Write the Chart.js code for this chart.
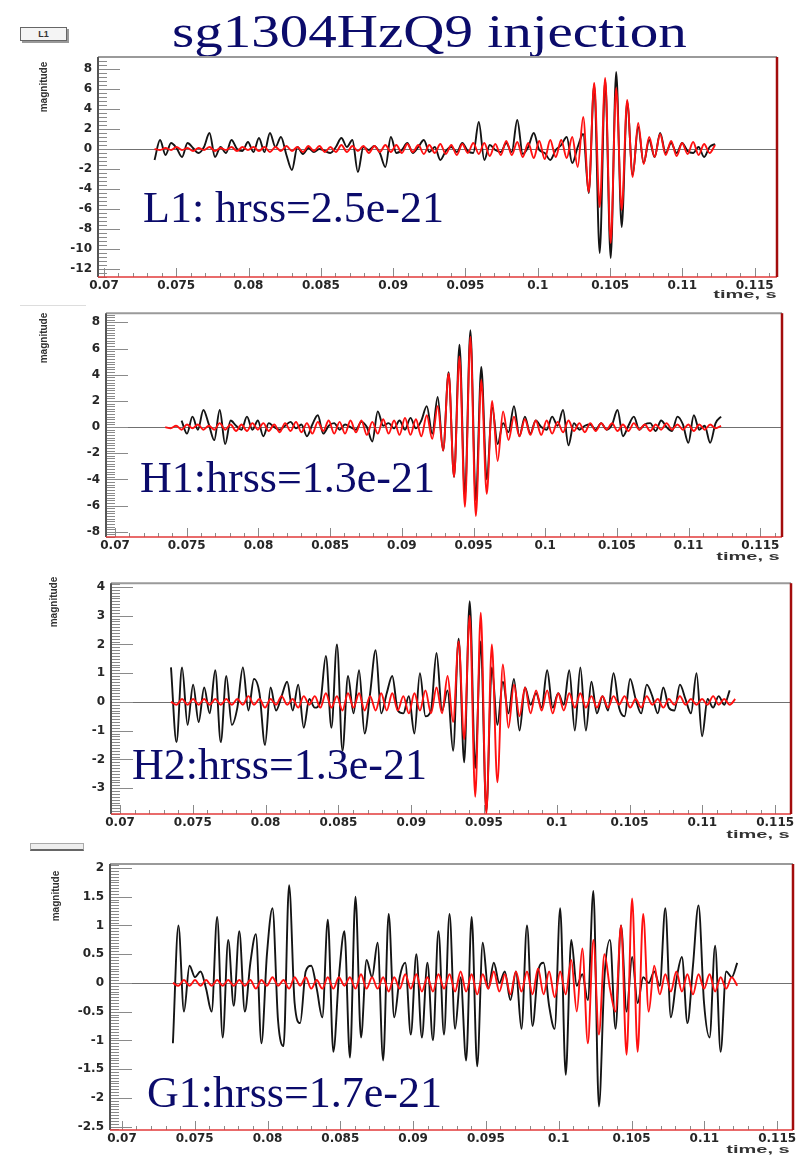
<!DOCTYPE html>
<html>
<head>
<meta charset="utf-8">
<title>sg1304HzQ9 injection</title>
<script src="https://cdn.jsdelivr.net/npm/chart.js@4.4.1/dist/chart.umd.min.js"></script>
<style>
  body { margin: 0; background: #fff; }
  #page { position: relative; width: 802px; height: 1156px; overflow: hidden; background: #fff; }
  canvas { position: absolute; left: 0; }
  .big { position: absolute; font-family: "Liberation Serif", "Times New Roman", serif; color: #0b0b6b; white-space: nowrap; }
  .ytitle { position: absolute; width: 70px; height: 12px; line-height: 12px; text-align: center;
            font: bold 10px "Liberation Sans", Arial, sans-serif; color: #333; transform: rotate(-90deg); }
  .xtitle { position: absolute; height: 12px; line-height: 12px; text-align: right;
            font: bold 10px "Liberation Sans", Arial, sans-serif; color: #333; transform: scaleX(2); transform-origin: right center; }
</style>
</head>
<body>
<div id="page">
  <div class="big" style="left:172px; top:9px; font-size:46px; line-height:46px; transform:scaleX(1.24); transform-origin:left center;">sg1304HzQ9 injection</div>

  <div style="position:absolute; left:20px; top:27px; width:45px; height:12px; border:1px solid #666; box-shadow:2px 2px 0 #999; background:#f4f4f4; font:bold 9px 'Liberation Sans', Arial; line-height:12px; text-align:center; color:#333;">L1</div>
  <div style="position:absolute; left:20px; top:305px; width:66px; height:1px; background:#ddd;"></div>
  <div style="position:absolute; left:30px; top:843px; width:52px; height:5px; border:1px solid #aaa; border-bottom:2px solid #666; background:#eee;"></div>

  <canvas id="c1" width="802" height="300" style="top:0px"></canvas>
  <canvas id="c2" width="802" height="270" style="top:300px"></canvas>
  <canvas id="c3" width="802" height="270" style="top:570px"></canvas>
  <canvas id="c4" width="802" height="316" style="top:840px"></canvas>

  <div class="ytitle" style="left:9px; top:81px;">magnitude</div>
  <div class="ytitle" style="left:9px; top:332px;">magnitude</div>
  <div class="ytitle" style="left:19px; top:596px;">magnitude</div>
  <div class="ytitle" style="left:21px; top:890px;">magnitude</div>

  <div class="xtitle" style="right:25px; top:289px;">time, s</div>
  <div class="xtitle" style="right:22px; top:551px;">time, s</div>
  <div class="xtitle" style="right:12px; top:829px;">time, s</div>
  <div class="xtitle" style="right:12px; top:1144px;">time, s</div>

  <div class="big" style="left:143px; top:186px; font-size:44px; line-height:44px;">L1: hrss=2.5e-21</div>
  <div class="big" style="left:140px; top:456px; font-size:44px; line-height:44px;">H1:hrss=1.3e-21</div>
  <div class="big" style="left:132px; top:743px; font-size:44px; line-height:44px;">H2:hrss=1.3e-21</div>
  <div class="big" style="left:147px; top:1071px; font-size:44px; line-height:44px;">G1:hrss=1.7e-21</div>
</div>

<script>
// samples are taken every T_STEP seconds starting at T_START
const T_START = 0.0735;
const T_STEP = 0.00038;

// tick labels
const xTicks = [0.07, 0.075, 0.08, 0.085, 0.09, 0.095, 0.1, 0.105, 0.11, 0.115];
const l1YTicks = [8, 6, 4, 2, 0, -2, -4, -6, -8, -10, -12];
const h1YTicks = [8, 6, 4, 2, 0, -2, -4, -6, -8];
const h2YTicks = [4, 3, 2, 1, 0, -1, -2, -3];
const g1YTicks = [2, 1.5, 1, 0.5, 0, -0.5, -1, -1.5, -2, -2.5];

// L1 - black: data, red: injected waveform
const l1Black = [
  -1.1, 0.9, -0.6, 0.6, 0.1, -0.8, 0.6, 0.1, -0.4, 0.2,
  1.6, -0.8, 0.2, -0.4, 0.9, 0.0, -0.2, 0.7, -0.3, 1.1,
  -0.3, 1.6, 0.2, 1.2, -0.6, -2.1, 0.2, -0.5, 0.1, -0.3,
  0.0, -0.2, -0.4, 0.2, 1.1, 0.2, 0.9, -2.3, 0.2, -0.1,
  0.3, -0.4, -1.8, 1.2, -0.4, -0.1, 0.6, -0.4, 0.2, 0.9,
  -0.3, 0.2, -1.1, -0.2, 0.2, -0.3, 0.6, -0.2, -0.4, 2.7,
  -1.1, 0.4, -0.1, -0.3, 0.6, -0.3, 2.9, -0.5, 0.2, 1.6,
  -0.1, -0.4, -1.1, -0.1, 0.4, 1.2, -1.4, 0.2, 1.5, -4.4,
  6.4, -10.4, 6.9, -10.9, 7.7, -7.8, 4.7, -2.6, 2.2, -1.4,
  0.9, -0.8, 1.6, -0.4, 0.6, -0.4, 0.6, -0.2, -0.4, 0.2,
  -0.8, 0.2, 0.5
];
const l1Red = [
  0.0, -0.1, 0.1, -0.1, 0.2, -0.1, 0.1, -0.2, 0.1, -0.1,
  0.2, -0.2, 0.1, -0.1, 0.2, -0.2, 0.2, -0.1, 0.2, -0.2,
  0.2, -0.3, 0.2, -0.2, 0.3, -0.2, 0.2, -0.3, 0.3, -0.2,
  0.3, -0.3, 0.2, -0.3, 0.4, -0.3, 0.3, -0.2, 0.3, -0.4,
  0.3, -0.3, 0.4, -0.3, 0.4, -0.4, 0.5, -0.3, 0.4, -0.5,
  0.4, -0.4, 0.5, -0.5, 0.4, -0.6, 0.5, -0.4, 0.6, -0.5,
  0.6, -0.7, 0.5, -0.6, 0.8, -0.6, 0.7, -0.8, 0.6, -0.9,
  0.8, -1.0, 0.9, -0.8, 0.9, -0.9, 1.2, -1.8, 3.2, -4.3,
  6.6, -5.8, 7.1, -9.4, 6.1, -6.1, 4.9, -2.8, 2.6, -1.5,
  1.2, -0.8, 1.5, -0.6, 0.8, -0.7, 0.6, -0.5, 0.7, -0.6,
  0.5, -0.4, 0.4
];

// H1
const h1Black = [
  null, null, null, 0.5, -0.5, 0.8, -0.2, 1.3, 0.2, -1.0,
  1.3, -1.3, 0.5, 0.1, -0.2, 0.8, -0.2, 0.5, -0.7, 0.3,
  0.0, -0.2, 0.1, 0.4, -0.1, 0.2, -0.7, 0.2, 0.9, -0.5,
  0.1, 0.3, -0.2, 0.2, 0.0, -0.2, 0.4, 0.0, -1.1, 1.2,
  0.1, 0.3, -0.1, 0.5, -0.2, 0.7, -0.1, 0.5, 1.6, -0.5,
  2.3, -1.8, 4.2, -3.8, 6.3, -5.3, 7.4, -5.6, 4.6, -4.0,
  1.5, -1.3, 0.3, -0.4, 1.6, -0.7, 0.8, -0.5, 0.5, 0.0,
  -0.2, 0.8, 0.1, 1.3, -1.4, 0.3, -0.2, 0.1, 0.2, -0.2,
  0.3, -0.2, 0.2, 1.3, -0.7, 0.1, 0.8, -0.2, 0.2, 0.3,
  -0.3, 0.5, 0.0, -0.3, 0.8, 0.2, -1.2, 0.9, -0.2, 0.1,
  -1.2, 0.3, 0.8
];
const h1Red = [
  0.0, -0.1, 0.1, -0.2, 0.2, -0.1, 0.2, -0.2, 0.1, -0.2,
  0.3, -0.2, 0.2, -0.3, 0.2, -0.3, 0.3, -0.2, 0.3, -0.3,
  0.2, -0.4, 0.3, -0.3, 0.4, -0.4, 0.3, -0.5, 0.4, -0.3,
  0.5, -0.5, 0.4, -0.5, 0.5, -0.4, 0.5, -0.6, 0.4, -0.5,
  0.6, -0.5, 0.5, -0.6, 0.7, -0.6, 0.6, -0.7, 0.9, -0.9,
  1.6, -1.8, 4.1, -3.8, 5.4, -6.1, 6.9, -6.8, 3.6, -5.1,
  2.0, -2.6, 1.2, -1.0, 0.8, -0.7, 0.6, -0.6, 0.5, -0.6,
  0.5, -0.5, 0.4, -0.4, 0.5, -0.3, 0.3, -0.4, 0.3, -0.3,
  0.3, -0.2, 0.3, -0.3, 0.2, -0.3, 0.3, -0.2, 0.2, -0.3,
  0.2, -0.2, 0.3, -0.2, 0.2, -0.2, 0.2, -0.3, 0.2, -0.2,
  0.2, -0.1, 0.1
];

// H2
const h2Black = [
  1.2, -1.4, 1.2, -0.8, 0.6, -0.7, 0.5, -0.4, 1.1, -1.4,
  0.9, -0.8, -0.2, 1.2, -0.3, 0.8, 0.3, -1.5, 0.5, -0.3,
  0.2, 0.7, -0.3, 0.6, -0.9, 0.1, -0.2, 0.0, 1.6, -0.9,
  2.0, -1.7, 0.9, -0.4, 1.1, -1.1, 0.3, 1.8, -0.4, 0.3,
  0.9, -0.3, -0.4, 0.2, -1.1, 1.0, -0.5, -0.3, 1.7, -0.3,
  0.4, -1.7, 2.2, -2.1, 3.5, -2.3, 2.1, -3.8, 1.2, -0.8,
  0.7, -0.4, 0.8, -1.0, 0.5, -0.1, 0.3, -0.2, 1.1, -0.2,
  0.3, -0.1, 1.1, -1.0, 1.2, -1.0, 0.7, -0.4, 0.2, -0.3,
  1.0, -0.2, -0.5, 0.8, 0.1, -0.4, 0.6, 0.2, -0.4, 0.5,
  -0.2, -0.3, 0.6, 0.1, -0.4, 1.0, -1.2, 0.1, -0.2, 0.2,
  -0.1, 0.4, null
];
const h2Red = [
  0.0, -0.1, 0.1, -0.1, 0.1, -0.1, 0.1, -0.1, 0.1, -0.1,
  0.1, -0.1, 0.1, -0.1, 0.2, -0.1, 0.1, -0.2, 0.1, -0.1,
  0.2, -0.1, 0.1, -0.2, 0.2, -0.1, 0.2, -0.2, 0.3, -0.2,
  0.2, -0.3, 0.3, -0.2, 0.3, -0.3, 0.2, -0.3, 0.3, -0.3,
  0.3, -0.3, 0.2, -0.4, 0.3, -0.3, 0.4, -0.4, 0.5, -0.4,
  0.9, -0.7, 2.1, -1.3, 3.0, -3.3, 3.1, -3.9, 2.0, -2.8,
  1.3, -0.9, 0.6, -0.5, 0.5, -0.4, 0.4, -0.3, 0.4, -0.4,
  0.3, -0.3, 0.3, -0.2, 0.3, -0.2, 0.2, -0.2, 0.2, -0.2,
  0.2, -0.1, 0.2, -0.2, 0.1, -0.2, 0.2, -0.1, 0.1, -0.2,
  0.1, -0.1, 0.2, -0.1, 0.1, -0.1, 0.1, -0.1, 0.2, -0.1,
  0.1, -0.1, 0.1
];

// G1
const g1Black = [
  -1.05, 1.0, -0.5, 0.3, 0.1, 0.2, -0.1, -0.5, 1.15, -0.95,
  0.75, -0.4, 0.9, -0.5, 0.35, 0.85, -1.05, 0.5, 1.3, -0.65,
  -1.1, 1.7, -0.35, -0.7, 0.2, 0.3, -0.1, -0.6, 1.1, -1.2,
  0.1, 0.9, -1.3, 1.5, -0.95, 0.4, 0.1, 0.7, -1.35, 1.2,
  -0.6, 0.1, 0.35, -0.9, 0.5, -0.95, 0.35, -1.0, 0.9, -0.9,
  1.2, -0.8, 0.1, -1.35, 1.15, -1.45, 0.7, -0.1, 0.35, 0.0,
  0.2, -0.3, 0.2, -0.8, 1.0, -0.75, 0.2, 0.35, -0.4, -0.8,
  1.3, -1.6, 0.75, -0.05, 0.15, -0.3, 1.6, -2.15, 0.1, 0.75,
  -0.8, 1.0, -0.5, 0.45, -0.35, 0.1, 0.0, 0.2, -0.05, 1.3,
  -0.6, 0.05, 0.45, -0.7, 0.3, 1.35, -0.35, -0.95, 0.65, -1.2,
  0.2, 0.1, 0.35
];
const g1Red = [
  0.0, -0.05, 0.05, -0.05, 0.05, -0.05, 0.05, -0.05, 0.05, -0.05,
  0.05, -0.05, 0.05, -0.05, 0.05, -0.1, 0.05, -0.05, 0.1, -0.05,
  0.05, -0.1, 0.1, -0.05, 0.1, -0.1, 0.05, -0.1, 0.1, -0.1,
  0.1, -0.05, 0.1, -0.1, 0.15, -0.1, 0.1, -0.1, 0.1, -0.15,
  0.1, -0.1, 0.15, -0.1, 0.15, -0.15, 0.1, -0.15, 0.15, -0.1,
  0.15, -0.15, 0.2, -0.15, 0.15, -0.2, 0.15, -0.1, 0.2, -0.15,
  0.15, -0.2, 0.2, -0.15, 0.2, -0.2, 0.25, -0.2, 0.2, -0.25,
  0.2, -0.2, 0.4, -0.5, 0.6, -1.05, 0.75, -0.9, 0.5, -0.1,
  -0.5, 1.0, -1.25, 1.47, -1.2, 1.2, -0.5, 0.3, -0.2, 0.15,
  -0.15, 0.2, -0.15, 0.15, -0.2, 0.15, -0.1, 0.15, -0.15, 0.1,
  -0.1, 0.1, -0.05
];

// ROOT-like frame: ticks inside the box, zero line, coloured borders
const rootAxes = {
  id: 'rootAxes',
  beforeDatasetsDraw(chart, args, opts) {
    const { ctx, chartArea: a, scales: { x, y } } = chart;
    ctx.save();
    ctx.lineWidth = 1;
    ctx.strokeStyle = '#707070';
    const y0 = Math.round(y.getPixelForValue(0)) + 0.5;
    ctx.beginPath();
    ctx.moveTo(a.left, y0);
    ctx.lineTo(a.right, y0);
    ctx.stroke();

    ctx.strokeStyle = '#8a8a8a';
    ctx.beginPath();
    const yt = opts.yTicks;
    const ystep = Math.abs(yt[0] - yt[1]) / opts.ySub;
    for (let k = Math.ceil(y.min / ystep - 1e-6); k * ystep <= y.max + 1e-9; k++) {
      const py = Math.round(y.getPixelForValue(k * ystep)) + 0.5;
      const len = Math.abs(k % opts.ySub) === 0 ? 22 : 9;
      ctx.moveTo(a.left, py);
      ctx.lineTo(a.left + len, py);
    }
    const xstep = 0.001;
    for (let k = Math.ceil(x.min / xstep - 1e-6); k * xstep <= x.max + 1e-9; k++) {
      const px = Math.round(x.getPixelForValue(k * xstep)) + 0.5;
      const len = k % 5 === 0 ? 9 : 4;
      ctx.moveTo(px, a.bottom);
      ctx.lineTo(px, a.bottom - len);
    }
    ctx.stroke();
    ctx.restore();
  },
  afterDatasetsDraw(chart) {
    const { ctx, chartArea: a } = chart;
    ctx.save();
    ctx.lineWidth = 2;
    ctx.strokeStyle = '#9a9a9a';
    ctx.beginPath(); ctx.moveTo(a.left, a.top); ctx.lineTo(a.right, a.top); ctx.stroke();
    ctx.strokeStyle = '#555';
    ctx.beginPath(); ctx.moveTo(a.left, a.top); ctx.lineTo(a.left, a.bottom); ctx.stroke();
    ctx.lineWidth = 1.5;
    ctx.strokeStyle = '#e23a3a';
    ctx.beginPath(); ctx.moveTo(a.left, a.bottom); ctx.lineTo(a.right, a.bottom); ctx.stroke();
    ctx.lineWidth = 2.5;
    ctx.strokeStyle = '#a30c0c';
    ctx.beginPath(); ctx.moveTo(a.right, a.top); ctx.lineTo(a.right, a.bottom); ctx.stroke();
    ctx.restore();
  }
};

function toPoints(values) {
  return values.map((v, i) => ({ x: T_START + i * T_STEP, y: v }));
}

function ShowPanel(id, black, red, yTicks, ySub, yMin, yMax, xMin, xMax, box) {
  const canvas = document.getElementById(id);
  const tickFont = { family: 'DejaVu Sans', weight: 'bold', size: 12 };
  new Chart(canvas, {
    type: 'line',
    data: {
      datasets: [
        { data: toPoints(black), borderColor: '#141414', borderWidth: 1.9, pointRadius: 0,
          cubicInterpolationMode: 'monotone', order: 2 },
        { data: toPoints(red), borderColor: '#ff1010', borderWidth: 1.9, pointRadius: 0,
          cubicInterpolationMode: 'monotone', order: 1 }
      ]
    },
    options: {
      responsive: false,
      animation: false,
      devicePixelRatio: 1,
      layout: {
        autoPadding: false,
        padding: { left: 0, top: box.top, right: canvas.width - box.right, bottom: 0 }
      },
      plugins: {
        legend: { display: false },
        tooltip: { enabled: false },
        rootAxes: { yTicks: yTicks, ySub: ySub }
      },
      scales: {
        x: {
          type: 'linear', min: xMin, max: xMax,
          afterFit: s => { s.height = canvas.height - box.bottom; },
          afterBuildTicks: s => { s.ticks = xTicks.map(v => ({ value: v })); },
          grid: { display: false, drawTicks: false },
          border: { display: false },
          ticks: { autoSkip: false, maxRotation: 0, minRotation: 0, padding: 2,
                   color: '#262626', font: tickFont, callback: v => String(v) }
        },
        y: {
          type: 'linear', min: yMin, max: yMax,
          afterFit: s => { s.width = box.left; },
          afterBuildTicks: s => { s.ticks = yTicks.map(v => ({ value: v })); },
          grid: { display: false, drawTicks: false },
          border: { display: false },
          ticks: { autoSkip: false, padding: 6, color: '#262626', font: tickFont,
                   callback: v => String(v) }
        }
      }
    },
    plugins: [rootAxes]
  });
}

ShowPanel('c1', l1Black, l1Red, l1YTicks, 5, -12.8, 9.2, 0.06959, 0.11654, { left: 98, top: 57, right: 777, bottom: 277 });
ShowPanel('c2', h1Black, h1Red, h1YTicks, 10, -8.4, 8.7, 0.06937, 0.11651, { left: 106, top: 13, right: 782, bottom: 237 });
ShowPanel('c3', h2Black, h2Red, h2YTicks, 10, -3.9, 4.13, 0.06938, 0.11609, { left: 111, top: 3, right: 791, bottom: 244 });
ShowPanel('c4', g1Black, g1Red, g1YTicks, 10, -2.56, 2.07, 0.06918, 0.11609, { left: 110, top: 24, right: 793, bottom: 290 });
</script>
</body>
</html>
